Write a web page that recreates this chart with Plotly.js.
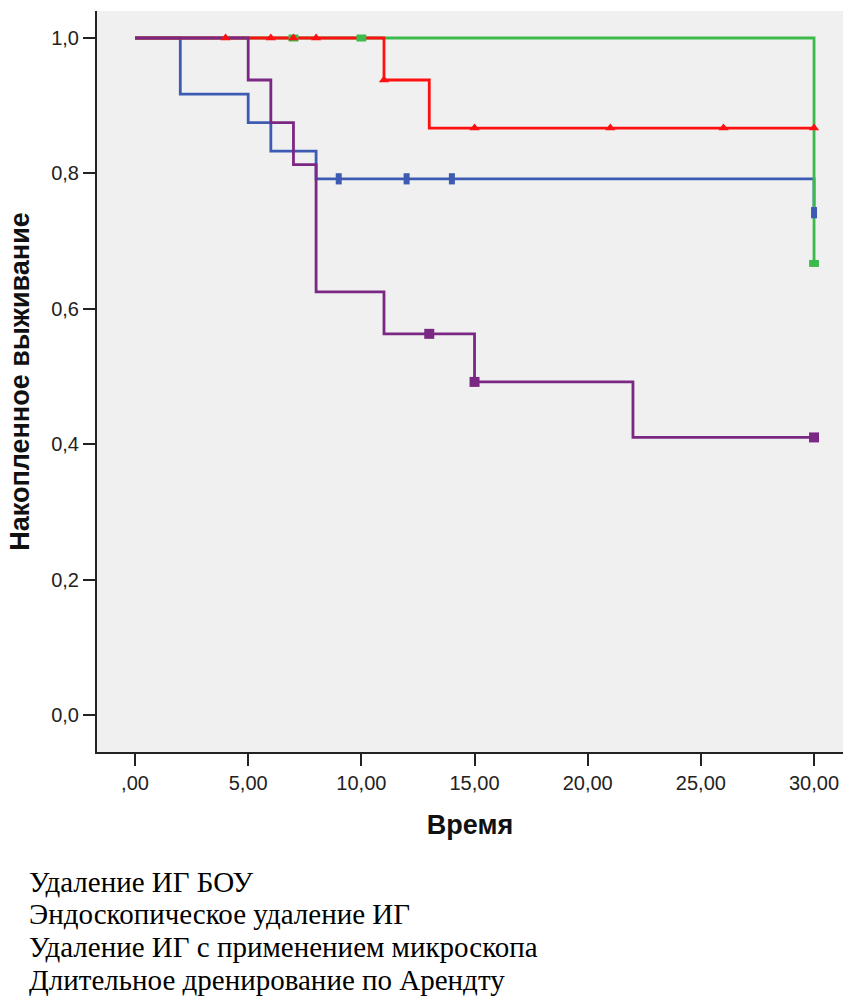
<!DOCTYPE html>
<html>
<head>
<meta charset="utf-8">
<script src="https://cdn.plot.ly/plotly-3.0.1.min.js"></script>
<style>html,body{margin:0;padding:0;background:#fff;}#chart{width:845px;height:997px;}</style>
</head>
<body>
<div id="chart"></div>
<script>
// ---- data ----
const groupNames = [
  "Удаление ИГ БОУ",
  "Эндоскопическое удаление ИГ",
  "Удаление ИГ с применением микроскопа",
  "Длительное дренирование по Арендту"
];
// step points (time, cumulative survival)
const blueTimes   = [0, 2, 5, 6, 8, 30];
const blueSurv    = [1.0, 0.917, 0.875, 0.833, 0.792, 0.742];
const blueCensor  = [9, 12, 14, 30];

const greenTimes  = [0, 30];
const greenSurv   = [1.0, 0.667];
const greenCensor = [7, 10, 30];

const redTimes    = [0, 11, 13, 30];
const redSurv     = [1.0, 0.938, 0.867, 0.867];
const redCensor   = [4, 6, 7, 8, 11, 15, 21, 26, 30];

const purpleTimes  = [0, 5, 6, 7, 8, 11, 15, 22, 30];
const purpleSurv   = [1.0, 0.938, 0.875, 0.813, 0.625, 0.563, 0.492, 0.41, 0.41];
const purpleCensor = [13, 15, 30];

const xTickVals = [0, 5, 10, 15, 20, 25, 30];
const xTickText = [",00", "5,00", "10,00", "15,00", "20,00", "25,00", "30,00"];
const yTickVals = [0, 0.2, 0.4, 0.6, 0.8, 1.0];
const yTickText = ["0,0", "0,2", "0,4", "0,6", "0,8", "1,0"];

// ---- helpers ----
function survAt(times, surv, t) {
  let s = surv[0];
  for (let i = 0; i < times.length; i++) { if (times[i] <= t) s = surv[i]; }
  return s;
}
function lineTrace(times, surv, color) {
  return { x: times, y: surv, type: 'scatter', mode: 'lines',
    line: { shape: 'hv', color: color, width: 2.8 }, hoverinfo: 'skip', showlegend: false };
}
function censorTrace(times, surv, cens, color, marker) {
  return { x: cens, y: cens.map(t => survAt(times, surv, t)), type: 'scatter', mode: 'markers',
    marker: Object.assign({ color: color }, marker), hoverinfo: 'skip', showlegend: false };
}

const cBlue = '#3d5bb3', cGreen = '#3cba4c', cRed = '#ff1010', cPurple = '#7b2884';

const traces = [
  lineTrace(blueTimes, blueSurv, cBlue),
  lineTrace(greenTimes, greenSurv, cGreen),
  lineTrace(redTimes, redSurv, cRed),
  lineTrace(purpleTimes, purpleSurv, cPurple),
  censorTrace(greenTimes, greenSurv, greenCensor, cGreen, { symbol: 'line-ew', size: 7, line: { color: cGreen, width: 7 } }),
  censorTrace(blueTimes, blueSurv, blueCensor, cBlue, { symbol: 'line-ns', size: 8, line: { color: cBlue, width: 6 } }),
  censorTrace(redTimes, redSurv, redCensor, cRed, { symbol: 'triangle-up', size: 9, line: { width: 0 } }),
  censorTrace(purpleTimes, purpleSurv, purpleCensor, cPurple, { symbol: 'square', size: 10, line: { width: 0 } })
];

const W = 845, H = 997, mL = 97, mR = 2, mT = 11, mB = 245;
const pw = W - mL - mR, ph = H - mT - mB;
function px2paperX(px) { return (px - mL) / pw; }
function px2paperY(py) { return (H - mB - py) / ph; }

const legendY = [882, 914, 947, 980];
const annotations = groupNames.map((name, i) => ({
  text: name, xref: 'paper', yref: 'paper', x: px2paperX(27), y: px2paperY(legendY[i]),
  xanchor: 'left', yanchor: 'middle', showarrow: false,
  font: { family: '"Liberation Serif", "Times New Roman", serif', size: 29, color: '#000' }
}));

const titleFont = { size: 27, color: '#111', family: '"Liberation Sans", Arial, sans-serif', weight: 'bold' };

const layout = {
  width: W, height: H,
  margin: { l: mL, r: mR, t: mT, b: mB, pad: 0 },
  paper_bgcolor: '#ffffff', plot_bgcolor: '#f0f0f0',
  showlegend: false,
  font: { family: '"Liberation Sans", Arial, sans-serif', color: '#222' },
  xaxis: {
    range: [-1.68, 31.28], tickvals: xTickVals, ticktext: xTickText,
    ticks: 'outside', ticklen: 12, tickwidth: 2, tickcolor: '#222',
    showgrid: false, zeroline: false, showline: true, linecolor: '#222', linewidth: 2,
    tickfont: { size: 20, color: '#222' },
    title: { text: 'Время', font: titleFont, standoff: 22 }
  },
  yaxis: {
    range: [-0.0547, 1.0399], tickvals: yTickVals, ticktext: yTickText,
    ticks: 'outside', ticklen: 12, tickwidth: 2, tickcolor: '#222',
    showgrid: false, zeroline: false, showline: true, linecolor: '#222', linewidth: 2,
    tickfont: { size: 20, color: '#222' },
    title: { text: 'Накопленное выживание', font: titleFont, standoff: 14 }
  },
  annotations: annotations
};

Plotly.newPlot('chart', traces, layout, { staticPlot: true, displayModeBar: false });
</script>
</body>
</html>
